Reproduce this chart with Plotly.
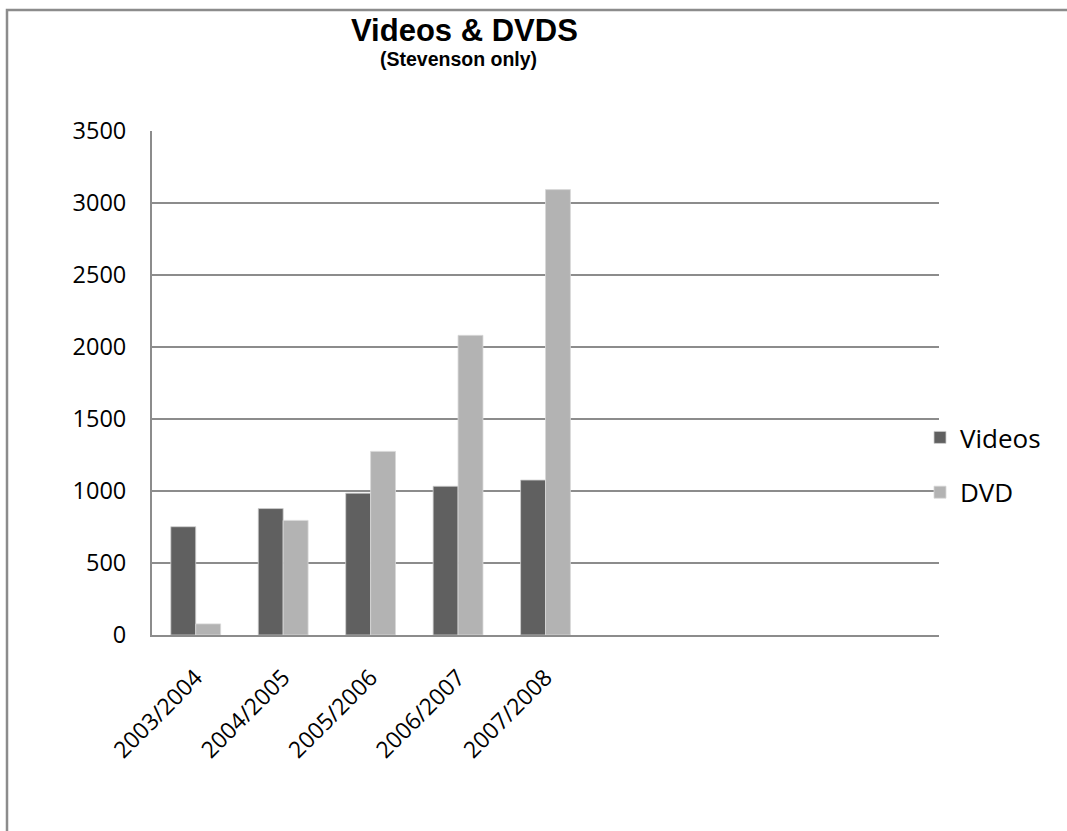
import plotly.graph_objects as go

categories = ["2003/2004", "2004/2005", "2005/2006", "2006/2007", "2007/2008"]
videos = [752, 878, 985, 1033, 1076]
dvd = [77, 796, 1275, 2081, 3093]
y_ticks = [0, 500, 1000, 1500, 2000, 2500, 3000, 3500]

W, H = 1067, 831
L, R, T, B = 152, 939, 131, 635

def px(x):
    return (x - L) / (R - L)

def py(y):
    return (B - y) / (B - T)

fig = go.Figure()
fig.add_trace(go.Bar(x=list(range(len(categories))), y=videos, name="Videos",
                     marker=dict(color="#606060", line=dict(color="#cfcfcf", width=0.8)),
                     legendgroup="a"))
fig.add_trace(go.Bar(x=list(range(len(categories))), y=dvd, name="DVD",
                     marker=dict(color="#b3b3b3", line=dict(color="#d8d8d8", width=0.8)),
                     legendgroup="b"))

fig.update_layout(
    width=W, height=H,
    margin=dict(l=L, r=W - R, t=T, b=H - B, pad=0),
    paper_bgcolor="white", plot_bgcolor="white",
    barmode="group", bargap=0.43, bargroupgap=0,
    font=dict(family="Open Sans", size=23, color="black"),
    legend=dict(x=px(920), y=py(414), xanchor="left", yanchor="top",
                font=dict(family="Open Sans", size=26, color="black"),
                tracegroupgap=18, bgcolor="rgba(0,0,0,0)"),
    xaxis=dict(range=[-0.5, 8.5], tickmode="array",
               tickvals=list(range(len(categories))), ticktext=categories,
               tickangle=-45, showgrid=False, zeroline=False,
               showline=True, linecolor="#8c8c8c", linewidth=2,
               ticks="outside", ticklen=18, tickcolor="rgba(0,0,0,0)",
               tickfont=dict(family="Open Sans", size=23)),
    yaxis=dict(range=[0, 3500], tickvals=y_ticks, showgrid=True,
               gridcolor="#8c8c8c", gridwidth=2, zeroline=False,
               showline=True, linecolor="#8c8c8c", linewidth=2,
               ticks="outside", ticklen=19, tickcolor="rgba(0,0,0,0)",
               tickfont=dict(family="Open Sans", size=23.5)),
    showlegend=True,
)

fig.add_annotation(text="<b>Videos &amp; DVDS</b>", xref="paper", yref="paper",
                   x=px(464.5), y=py(30), xanchor="center", yanchor="middle",
                   showarrow=False, font=dict(family="Liberation Sans", size=31, color="black"))
fig.add_annotation(text="<b>(Stevenson only)</b>", xref="paper", yref="paper",
                   x=px(458.5), y=py(59), xanchor="center", yanchor="middle",
                   showarrow=False, font=dict(family="Liberation Sans", size=19.5, color="black"))

fig.add_shape(type="rect", xref="paper", yref="paper",
              x0=px(7), y0=py(840), x1=px(1075), y1=py(10),
              line=dict(color="#8c8c8c", width=2.5), fillcolor="rgba(0,0,0,0)", layer="below")

fig.write_html("out.html")
